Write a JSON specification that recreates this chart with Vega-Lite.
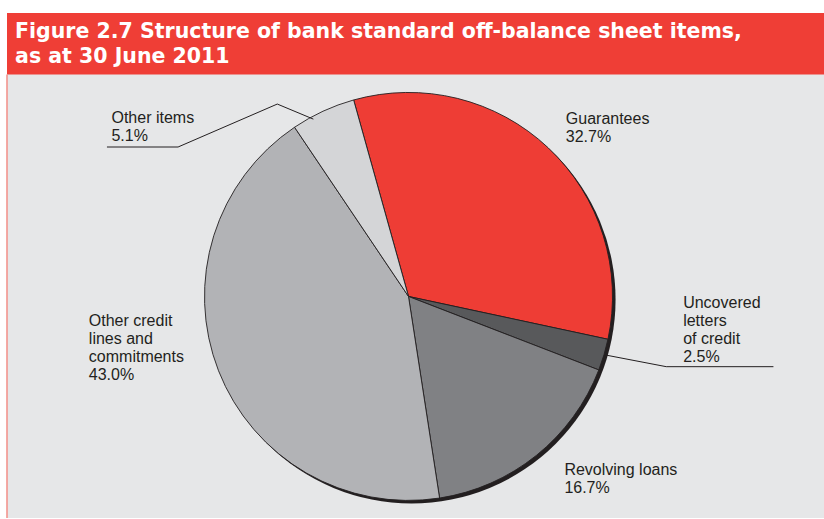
{
  "$schema": "https://vega.github.io/schema/vega-lite/v6.json",
  "autosize": {"type": "fit", "contains": "padding"},
  "width": 824,
  "height": 519,
  "padding": {"left": 6, "top": 13, "right": 0, "bottom": 0},
  "background": "#ffffff",
  "config": {"view": {"fill": "#e6e7e8", "stroke": null}},
  "datasets": {
    "slices": [
      {"item": "Guarantees", "share": 32.7, "order": 1},
      {"item": "Uncovered letters of credit", "share": 2.5, "order": 2},
      {"item": "Revolving loans", "share": 16.7, "order": 3},
      {"item": "Other credit lines and commitments", "share": 43.0, "order": 4},
      {"item": "Other items", "share": 5.1, "order": 5}
    ],
    "labels": [
      {"label": "Other items\n5.1%", "lx": -145.8, "ly": 85.4},
      {"label": "Guarantees\n32.7%", "lx": 77.2, "ly": 84.7},
      {"label": "Uncovered\nletters\nof credit\n2.5%", "lx": 134.8, "ly": -5.9},
      {"label": "Other credit\nlines and\ncommitments\n43.0%", "lx": -156.9, "ly": -14.5},
      {"label": "Revolving loans\n16.7%", "lx": 76.5, "ly": -87.6}
    ],
    "leaders": [
      {"line": "a", "seq": 1, "px": -148.0, "py": 73.4},
      {"line": "a", "seq": 2, "px": -113.1, "py": 73.4},
      {"line": "a", "seq": 3, "px": -64.4, "py": 94.5},
      {"line": "a", "seq": 4, "px": -46.7, "py": 87.1},
      {"line": "b", "seq": 1, "px": 97.4, "py": -28.9},
      {"line": "b", "seq": 2, "px": 126.5, "py": -34.5},
      {"line": "b", "seq": 3, "px": 179.1, "py": -34.5}
    ],
    "band": [{"x1": -200, "x2": 210, "y1": 150, "y2": 109.07}],
    "frame": [{"x1": -197.06, "y1": -108.82, "y2": 109.07}],
    "title": [{"t": "Figure 2.7 Structure of bank standard off-balance sheet items,\nas at 30 June 2011", "tx": -193.1, "ty": 126.8}],
    "shadow": [{"cx": 1.5, "cy": -1.5}]
  },
  "layer": [
    {
      "data": {"name": "band"},
      "mark": {"type": "rect", "color": "#ef3e36", "clip": true},
      "encoding": {
        "x": {"field": "x1", "type": "quantitative", "axis": null, "scale": {"domain": [-197.06, 203.92], "nice": false, "zero": false}},
        "x2": {"field": "x2"},
        "y": {"field": "y1", "type": "quantitative", "axis": null, "scale": {"domain": [-108.82, 139.22], "nice": false, "zero": false}},
        "y2": {"field": "y2"}
      }
    },
    {
      "data": {"name": "frame"},
      "mark": {"type": "rule", "color": "#f3958e", "strokeWidth": 1.6},
      "encoding": {
        "x": {"field": "x1", "type": "quantitative", "axis": null},
        "y": {"field": "y1", "type": "quantitative", "axis": null},
        "y2": {"field": "y2"}
      }
    },
    {
      "data": {"name": "shadow"},
      "mark": {"type": "arc", "outerRadius": 204, "color": "#231f20"},
      "encoding": {
        "x": {"field": "cx", "type": "quantitative", "axis": null},
        "y": {"field": "cy", "type": "quantitative", "axis": null}
      }
    },
    {
      "data": {"name": "slices"},
      "mark": {"type": "arc", "outerRadius": 204, "stroke": "#231f20", "strokeWidth": 0.9},
      "encoding": {
        "x": {"datum": 0, "type": "quantitative", "axis": null},
        "y": {"datum": 0, "type": "quantitative", "axis": null},
        "theta": {"field": "share", "type": "quantitative", "stack": true, "scale": {"range": [-0.2723, 6.0109]}},
        "order": {"field": "order", "type": "quantitative"},
        "color": {
          "field": "item", "type": "nominal", "legend": null,
          "scale": {
            "domain": ["Guarantees", "Uncovered letters of credit", "Revolving loans", "Other credit lines and commitments", "Other items"],
            "range": ["#ee3d35", "#58595b", "#808184", "#b2b3b6", "#d4d5d7"]
          }
        }
      }
    },
    {
      "data": {"name": "leaders"},
      "mark": {"type": "line", "color": "#231f20", "strokeWidth": 1},
      "encoding": {
        "x": {"field": "px", "type": "quantitative", "axis": null},
        "y": {"field": "py", "type": "quantitative", "axis": null},
        "detail": {"field": "line", "type": "nominal"},
        "order": {"field": "seq", "type": "quantitative"}
      }
    },
    {
      "data": {"name": "labels"},
      "mark": {"type": "text", "align": "left", "baseline": "alphabetic", "font": "Liberation Sans", "fontSize": 16, "lineHeight": 18, "lineBreak": "\n", "color": "#231f20"},
      "encoding": {
        "x": {"field": "lx", "type": "quantitative", "axis": null},
        "y": {"field": "ly", "type": "quantitative", "axis": null},
        "text": {"field": "label", "type": "nominal"}
      }
    },
    {
      "data": {"name": "title"},
      "mark": {"type": "text", "align": "left", "baseline": "alphabetic", "font": "DejaVu Sans", "fontWeight": "bold", "fontSize": 20.5, "lineHeight": 25, "lineBreak": "\n", "color": "#ffffff"},
      "encoding": {
        "x": {"field": "tx", "type": "quantitative", "axis": null},
        "y": {"field": "ty", "type": "quantitative", "axis": null},
        "text": {"field": "t", "type": "nominal"}
      }
    }
  ]
}
